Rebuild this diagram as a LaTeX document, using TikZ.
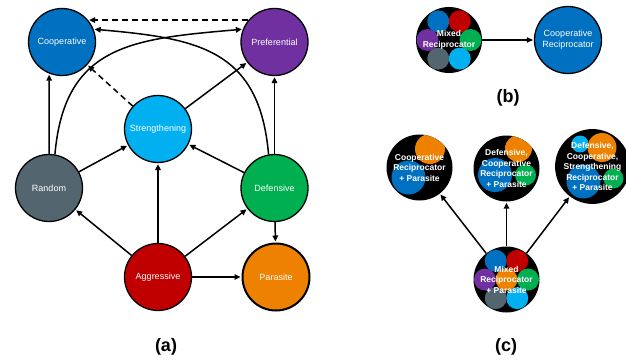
\documentclass[tikz,border=0pt]{standalone}
\usepackage{fontspec}
\setmainfont{Liberation Sans}
\usetikzlibrary{arrows.meta}
\definecolor{cblue}{HTML}{0070C0}
\definecolor{cpurp}{HTML}{7030A0}
\definecolor{ccyan}{HTML}{00B0F0}
\definecolor{cgray}{HTML}{536670}
\definecolor{cgreen}{HTML}{00B050}
\definecolor{cred}{HTML}{C00000}
\definecolor{corange}{HTML}{EE8100}
\newcommand\incirc[4]{\fill[#1] ([shift={(#2pt,#3pt)}]path picture bounding box.center) circle (#4pt);}
\newcommand\hexcirc[2]{\fill[#1] ([shift={(#2:21.5pt)}]path picture bounding box.center) circle (11pt);}
\newcommand\hexall{\hexcirc{cblue}{120}\hexcirc{cred}{60}\hexcirc{cgreen}{0}\hexcirc{ccyan}{300}\hexcirc{cgray}{240}\hexcirc{cpurp}{180}}
\begin{document}
\begin{tikzpicture}[x=1pt,y=1pt,
  st/.style={circle, draw=black, line width=1.3pt, minimum size=67pt, inner sep=0pt, text=white, font=\fontsize{9}{11}\selectfont, align=center},
  mx/.style={circle, fill=black, minimum size=66pt, inner sep=0pt, text=white, align=center, font=\bfseries\fontsize{8.5}{10.5}\selectfont},
  arr/.style={line width=1.5pt, -{Triangle[length=6pt,width=5.5pt]}, shorten >=1pt},
  dsh/.style={arr, dash pattern=on 6pt off 4pt},
  lab/.style={font=\bfseries\fontsize{18}{20}\selectfont}
]
\useasboundingbox (0,0) rectangle (626,362);

% (a)
\node[st, fill=cblue] (coop) at (62,320) {Cooperative};
\node[st, fill=cpurp] (pref) at (274.5,320) {Preferential};
\node[st, fill=ccyan] (stren) at (158,233) {Strengthening};
\node[st, fill=cgray] (rand) at (49,174) {Random};
\node[st, fill=cgreen] (def) at (274.5,174) {Defensive};
\node[st, fill=cred] (aggr) at (158,85) {Aggressive};
\node[st, fill=corange, line width=2pt] (para) at (276,85) {Parasite};

\draw[arr] (rand.north) -- (coop.248);
\draw[arr] (rand) -- (stren);
\draw[arr] (rand.80) to[out=85, in=185, looseness=1.25] (pref.158);
\draw[arr] (def.100) to[out=95, in=-5, looseness=1.25] (coop.22);
\draw[dsh] (pref.140) -- (coop.40);
\draw[dsh] (stren) -- (coop);
\draw[arr] (stren) -- (pref);
\draw[arr] (def) -- (stren);
\draw[arr] (def) -- (pref);
\draw[arr] (def) -- (para);
\draw[arr] (aggr) -- (rand);
\draw[arr] (aggr) -- (stren);
\draw[arr] (aggr) -- (def);
\draw[arr] (aggr) -- (para);
\node[lab] (la) at (166,15) {(a)};

% (b)
\node[mx, path picture={\hexall}] (mixb) at (449,322) {Mixed\\Reciprocator};
\node[st, fill=cblue] (coopr) at (568,322) {Cooperative\\Reciprocator};
\draw[arr, line width=1.1pt] (mixb) -- (coopr);
\node[lab] (lb) at (508,264) {(b)};

% (c)
\node[mx, path picture={\incirc{corange}{10.5}{18.5}{15}\incirc{cblue}{-11}{-10}{17}}] (c1) at (419.5,194.5) {Cooperative\\Reciprocator\\+ Parasite};
\node[mx, path picture={\incirc{corange}{12}{20}{13.5}\incirc{cblue}{-11.5}{-6.5}{17}\incirc{cgreen}{19}{-6.5}{10.5}}] (c2) at (506.5,193.5) {Defensive,\\Cooperative\\Reciprocator\\+ Parasite};
\node[mx, path picture={\incirc{ccyan}{-12.5}{22.5}{8.5}\incirc{corange}{9.5}{19}{14.5}\incirc{cblue}{-9}{-15}{17}\incirc{cgreen}{21}{-12}{10}}] (c3) at (592.5,195.5) {Defensive,\\Cooperative,\\Strengthening\\Reciprocator\\+ Parasite};
\node[mx, path picture={\hexall\incirc{corange}{0}{0}{11}}] (c4) at (506.5,82.5) {Mixed\\Reciprocator\\+ Parasite};
\draw[arr] (c4) -- (c1);
\draw[arr] (c4) -- (c2);
\draw[arr] (c4) -- (c3);
\node[lab] (lc) at (506,15) {(c)};
\end{tikzpicture}
\end{document}
